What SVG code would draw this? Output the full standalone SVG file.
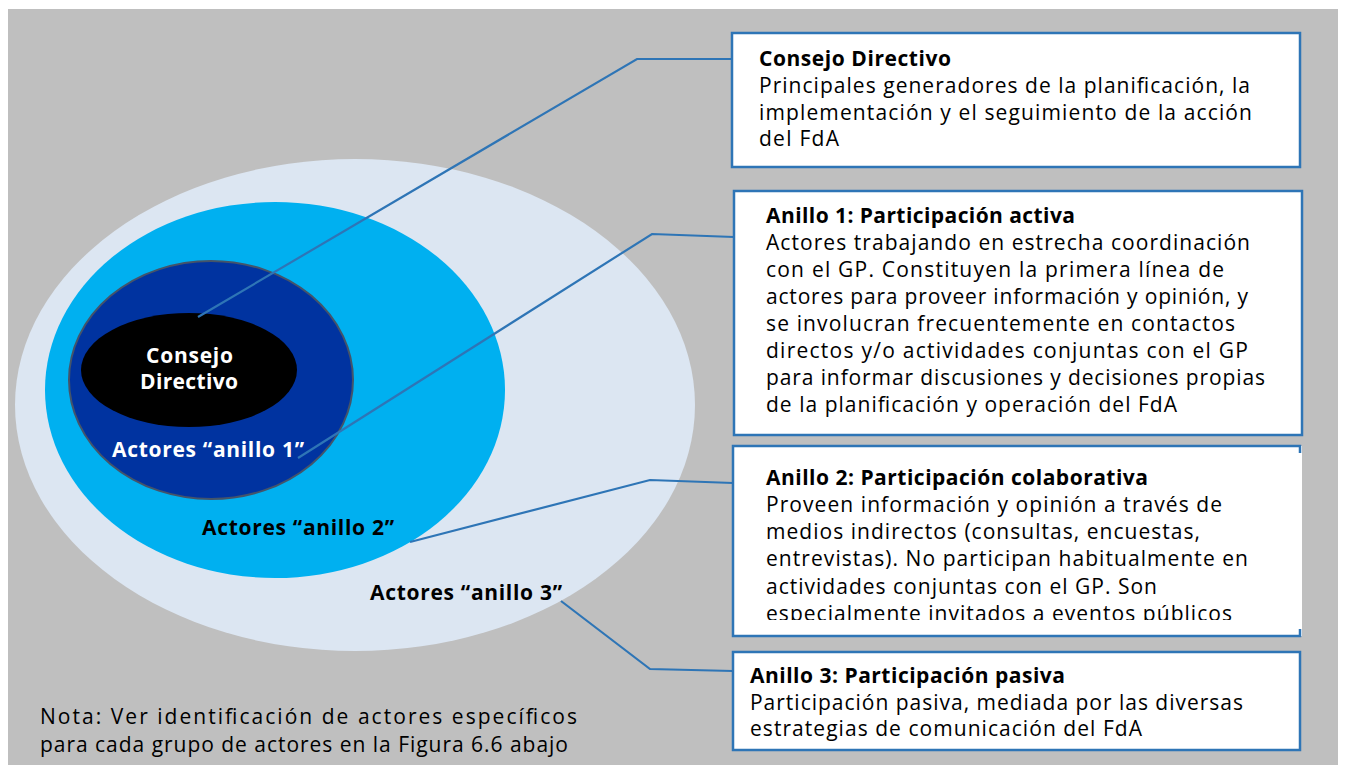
<svg xmlns="http://www.w3.org/2000/svg" width="1345" height="765" viewBox="0 0 1345 765">
<defs>
<style>
.t{font-family:"Open Sans","Noto Sans","Liberation Sans",sans-serif;font-size:21px;fill:#000}
.b{font-weight:bold}
.w{fill:#fff}
.box{fill:#fff;stroke:#2e75b6;stroke-width:2.5}
.con{fill:none;stroke:#2e75b6;stroke-width:2.2}
</style>
<clipPath id="c3"><rect x="733" y="446" width="570" height="174"/></clipPath>
</defs>
<rect x="0" y="0" width="1345" height="765" fill="#fff"/>
<rect x="8" y="9" width="1330" height="756" fill="#bfbfbf"/>

<g id="ring3">
<ellipse cx="355" cy="405" rx="340" ry="246" fill="#dce6f2"/>
<text class="t b" x="370" y="600" textLength="192">Actores “anillo 3”</text>
</g>
<g id="ring2">
<ellipse cx="275" cy="390" rx="230" ry="188" fill="#00b0f0"/>
<text class="t b" x="202" y="535" textLength="192">Actores “anillo 2”</text>
</g>
<g id="ring1">
<ellipse cx="211" cy="380" rx="142" ry="119" fill="#0033a0" stroke="#44546a" stroke-width="2"/>
<text class="t b w" x="112" y="457" textLength="192">Actores “anillo 1”</text>
</g>
<g id="core">
<ellipse cx="189" cy="370" rx="108" ry="57" fill="#000"/>
<text class="t b w" x="146" y="363" textLength="87">Consejo</text>
<text class="t b w" x="140" y="389" textLength="98">Directivo</text>
</g>

<g id="connectors">
<polyline class="con" points="198,317 637,59 732,59"/>
<polyline class="con" points="298,458 652,234 734,237"/>
<polyline class="con" points="410,542 650,480 733,483"/>
<polyline class="con" points="561,601 650,669 733,671"/>
</g>

<g id="box-consejo">
<rect class="box" x="732" y="33" width="568" height="134"/>
<text class="t b" x="759" y="66" textLength="192">Consejo Directivo</text>
<text class="t" x="759" y="93" textLength="491">Principales generadores de la planificación, la</text>
<text class="t" x="759" y="120" textLength="493">implementación y el seguimiento de la acción</text>
<text class="t" x="759" y="146" textLength="80">del FdA</text>
</g>

<g id="box-anillo1">
<rect class="box" x="734" y="191" width="568" height="244"/>
<text class="t b" x="766" y="223" textLength="309">Anillo 1: Participación activa</text>
<text class="t" x="766" y="250" textLength="484">Actores trabajando en estrecha coordinación</text>
<text class="t" x="766" y="277" textLength="458">con el GP. Constituyen la primera línea de</text>
<text class="t" x="766" y="304" textLength="482">actores para proveer información y opinión, y</text>
<text class="t" x="766" y="331" textLength="469">se involucran frecuentemente en contactos</text>
<text class="t" x="766" y="358" textLength="482">directos y/o actividades conjuntas con el GP</text>
<text class="t" x="766" y="385" textLength="499">para informar discusiones y decisiones propias</text>
<text class="t" x="766" y="412" textLength="411">de la planificación y operación del FdA</text>
</g>

<g id="box-anillo2">
<rect x="733" y="446" width="569" height="190" fill="#fff"/>
<path class="box" fill="none" d="M1300,453 V446 H733 V636 H1300 V629"/>
<g clip-path="url(#c3)">
<text class="t b" x="766" y="485" textLength="382">Anillo 2: Participación colaborativa</text>
<text class="t" x="766" y="512" textLength="456">Proveen información y opinión a través de</text>
<text class="t" x="766" y="539" textLength="434">medios indirectos (consultas, encuestas,</text>
<text class="t" x="766" y="566" textLength="482">entrevistas). No participan habitualmente en</text>
<text class="t" x="766" y="594" textLength="391">actividades conjuntas con el GP. Son</text>
<text class="t" x="766" y="621" textLength="466">especialmente invitados a eventos públicos</text>
</g>
</g>

<g id="box-anillo3">
<rect class="box" x="733" y="652" width="567" height="98"/>
<text class="t b" x="750" y="683" textLength="315">Anillo 3: Participación pasiva</text>
<text class="t" x="750" y="710" textLength="493">Participación pasiva, mediada por las diversas</text>
<text class="t" x="750" y="736" textLength="392">estrategias de comunicación del FdA</text>
</g>

<g id="nota">
<text class="t" x="40" y="724" textLength="537">Nota: Ver identificación de actores específicos</text>
<text class="t" x="40" y="752" textLength="528">para cada grupo de actores en la Figura 6.6 abajo</text>
</g>
</svg>
